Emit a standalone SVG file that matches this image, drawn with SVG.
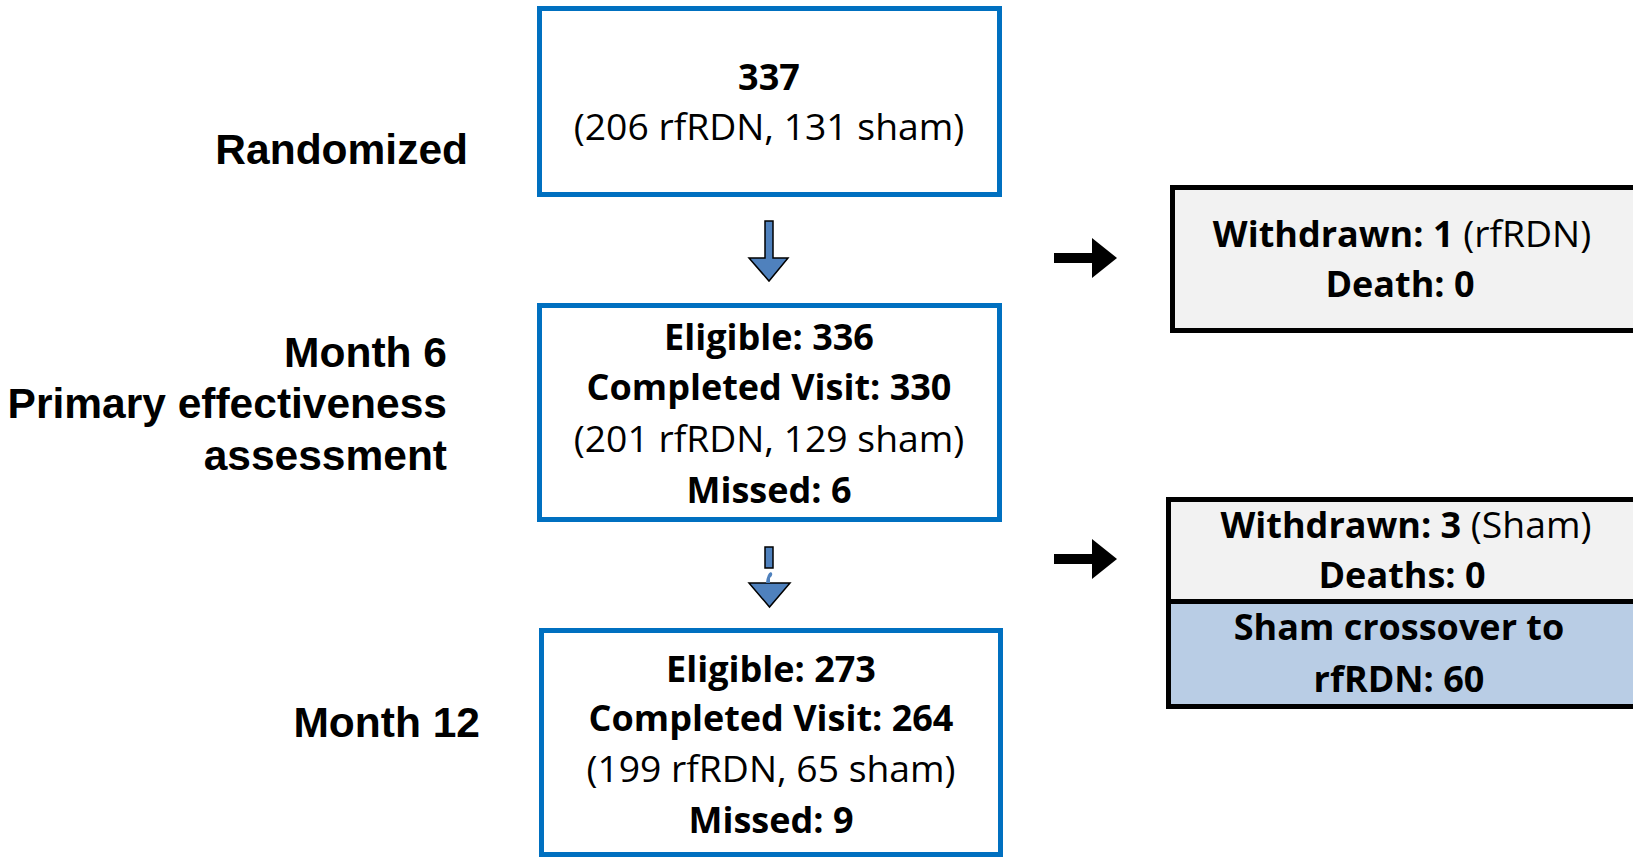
<svg xmlns="http://www.w3.org/2000/svg" width="1633" height="857" viewBox="0 0 1633 857">
  <style>
    .stage { font-family: "Liberation Sans", Arial, sans-serif; font-weight: bold; font-size: 42.5px; fill: #000; text-anchor: end; }
    .box-blue { fill: #ffffff; stroke: #0070C0; stroke-width: 5; }
    .box-grey { fill: #F2F2F2; stroke: #000; stroke-width: 5; }
    .box-cross { fill: #B9CDE5; stroke: #000; stroke-width: 5; }
    .t { font-family: "Open Sans", "Noto Sans", sans-serif; font-size: 37.3px; fill: #000; text-anchor: middle; }
    .b { font-weight: bold; font-size: 36px; }
    .down { fill: #4F81BD; stroke: #000; stroke-width: 1.5; stroke-linejoin: miter; }
    .side { fill: #000; }
  </style>

  <!-- stage labels on the left -->
  <g id="labels">
    <text class="stage" x="468" y="164">Randomized</text>
    <text class="stage" x="447" y="367">Month 6</text>
    <text class="stage" x="447" y="418">Primary effectiveness</text>
    <text class="stage" x="447" y="470">assessment</text>
    <text class="stage" x="480" y="737">Month 12</text>
  </g>

  <!-- randomized -->
  <g id="randomized">
    <rect class="box-blue" x="539.5" y="8.5" width="460" height="186"/>
    <text class="t b" x="769" y="90">337</text>
    <text class="t" x="769" y="140">(206 rfRDN, 131 sham)</text>
  </g>

  <!-- month 6 -->
  <g id="month6">
    <rect class="box-blue" x="539.5" y="305.5" width="460" height="214"/>
    <text class="t b" x="769" y="350">Eligible: 336</text>
    <text class="t b" x="769" y="400">Completed Visit: 330</text>
    <text class="t" x="769" y="452">(201 rfRDN, 129 sham)</text>
    <text class="t b" x="769" y="503">Missed: 6</text>
  </g>

  <!-- month 12 -->
  <g id="month12">
    <rect class="box-blue" x="541.5" y="630.5" width="459" height="224"/>
    <text class="t b" x="771" y="682">Eligible: 273</text>
    <text class="t b" x="771" y="731">Completed Visit: 264</text>
    <text class="t" x="771" y="782">(199 rfRDN, 65 sham)</text>
    <text class="t b" x="771" y="833">Missed: 9</text>
  </g>

  <!-- withdrawals before month 6 -->
  <g id="withdrawn6">
    <rect class="box-grey" x="1172.5" y="187.5" width="470" height="143"/>
    <text class="t" x="1402" y="247"><tspan class="b">Withdrawn: 1</tspan> (rfRDN)</text>
    <text class="t b" x="1400" y="297">Death: 0</text>
  </g>

  <!-- withdrawals before month 12 -->
  <g id="withdrawn12">
    <rect class="box-grey" x="1168.5" y="499.5" width="474" height="102"/>
    <text class="t" x="1406" y="538"><tspan class="b">Withdrawn: 3</tspan> (Sham)</text>
    <text class="t b" x="1402" y="588">Deaths: 0</text>
  </g>

  <!-- crossover -->
  <g id="crossover">
    <rect class="box-cross" x="1168.5" y="601.5" width="474" height="105"/>
    <text class="t b" x="1399" y="640">Sham crossover to</text>
    <text class="t b" x="1399" y="692">rfRDN: 60</text>
  </g>

  <!-- connectors -->
  <g id="connectors">
    <path class="down" d="M765,221 H773 V258 H788 L769,281 L749,258 H765 Z"/>
    <rect class="down" x="765" y="547" width="8" height="21"/>
    <path class="down" d="M749,583 H790 L769.5,607 Z"/>
    <path d="M766,583 Q767,573 771,572 Q774,574 770,578 L770,583 Z" fill="#4F81BD"/>
    <path class="side" d="M1054,253 H1092 V238 L1117,258 L1092,278 V263 H1054 Z"/>
    <path class="side" d="M1054,554 H1092 V539 L1117,559 L1092,579 V564 H1054 Z"/>
  </g>
</svg>
